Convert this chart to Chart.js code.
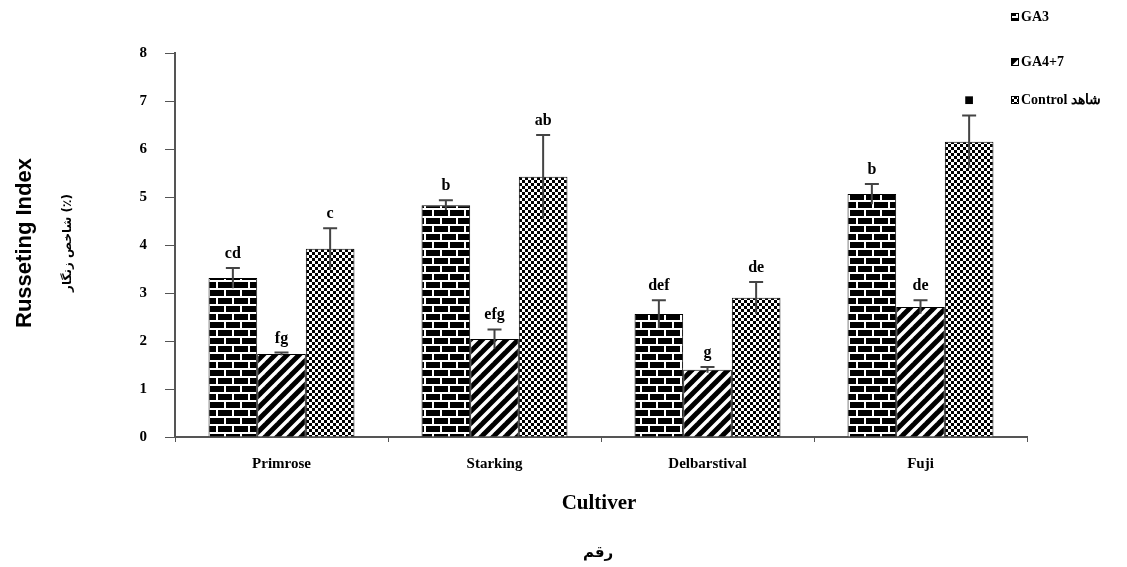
<!DOCTYPE html>
<html>
<head>
<meta charset="utf-8">
<script src="https://cdn.jsdelivr.net/npm/chart.js@4/dist/chart.umd.min.js"></script>
<style>
html,body{margin:0;padding:0;background:#fff}
#wrap{width:1127px;height:567px;position:relative}
</style>
</head>
<body>
<div id="wrap"><canvas id="myChart"></canvas></div>
<script>
// data
const cultivars = ['Primrose', 'Starking', 'Delbarstival', 'Fuji'];
const seriesNames = ['GA3', 'GA4+7', 'Control شاهد'];
const ga3 = [3.31, 4.83, 2.56, 5.06];
const ga47 = [1.73, 2.04, 1.40, 2.71];
const control = [3.92, 5.42, 2.90, 6.15];
const ga3Err = [0.21, 0.10, 0.29, 0.21];
const ga47Err = [0.03, 0.20, 0.06, 0.14];
const controlErr = [0.43, 0.87, 0.33, 0.55];
const ga3Letters = ['cd', 'b', 'def', 'b'];
const ga47Letters = ['fg', 'efg', 'g', 'de'];
const controlLetters = ['c', 'ab', 'de', '■'];
const yTicks = [0, 1, 2, 3, 4, 5, 6, 7, 8];

function tile(w, h, draw) {
    const c = document.createElement('canvas');
    c.width = w; c.height = h;
    const g = c.getContext('2d');
    draw(g);
    return document.createElement('canvas').getContext('2d').createPattern(c, 'repeat');
}

// brick
const brick = tile(16, 16, function(g){
    g.fillStyle = '#000'; g.fillRect(0, 0, 16, 16);
    g.fillStyle = '#fff';
    g.fillRect(0, 0, 16, 2);
    g.fillRect(0, 8, 16, 2);
    g.fillRect(0, 0, 2, 8);
    g.fillRect(8, 8, 2, 8);
});
// diagonal stripes
const stripes = tile(12, 12, function(g){
    g.fillStyle = '#000'; g.fillRect(0, 0, 12, 12);
    g.strokeStyle = '#fff'; g.lineWidth = 3.5;
    for (let k = -1; k <= 1; k++) {
        g.beginPath();
        g.moveTo(k * 12 - 1, 13);
        g.lineTo(k * 12 + 13, -1);
        g.stroke();
    }
});
// checkerboard
const checker = tile(6, 6, function(g){
    g.fillStyle = '#fff'; g.fillRect(0, 0, 6, 6);
    g.fillStyle = '#000';
    g.fillRect(0, 0, 3, 3);
    g.fillRect(3, 3, 3, 3);
});

const patterns = [brick, stripes, checker];
const errs = [ga3Err, ga47Err, controlErr];
const letters = [ga3Letters, ga47Letters, controlLetters];

const serif = '"Liberation Serif", "Times New Roman", serif';

const extras = {
    id: 'extras',
    afterDatasetsDraw(chart) {
        const ctx = chart.ctx;
        const y = chart.scales.y;
        ctx.save();
        chart.data.datasets.forEach(function(ds, i){
            const meta = chart.getDatasetMeta(i);
            meta.data.forEach(function(el, j){
                const v = ds.data[j], e = errs[i][j];
                const top = y.getPixelForValue(v + e);
                const bot = y.getPixelForValue(v - e);
                ctx.strokeStyle = '#444';
                ctx.lineWidth = 2;
                ctx.beginPath();
                ctx.moveTo(el.x, bot);
                ctx.lineTo(el.x, top);
                ctx.moveTo(el.x - 7, top);
                ctx.lineTo(el.x + 7, top);
                ctx.stroke();
                ctx.fillStyle = '#000';
                ctx.font = 'bold 16px ' + serif;
                ctx.textAlign = 'center';
                ctx.textBaseline = 'alphabetic';
                ctx.fillText(letters[i][j], el.x, top - 10);
            });
        });
        ctx.restore();
    },
    afterDraw(chart) {
        const ctx = chart.ctx;
        ctx.save();
        ctx.fillStyle = '#000';
        // y titles
        ctx.save();
        ctx.translate(25, 243);
        ctx.rotate(-Math.PI / 2);
        ctx.textAlign = 'center';
        ctx.textBaseline = 'middle';
        ctx.font = 'bold 22px "Liberation Sans", Arial, sans-serif';
        ctx.fillText('Russeting Index', 0, 0);
        ctx.translate(0, 43);
        ctx.font = 'bold 12px "DejaVu Sans", sans-serif';
        ctx.fillText('شاخص زنگار (٪)', 0, 0);
        ctx.restore();
        // x titles
        ctx.textAlign = 'center';
        ctx.textBaseline = 'middle';
        ctx.font = 'bold 21px ' + serif;
        ctx.fillText('Cultiver', 599, 504);
        ctx.font = 'bold 15px "DejaVu Sans", sans-serif';
        ctx.fillText('رقم', 598, 553);
        // legend
        const ly = [17, 62, 100];
        ctx.textAlign = 'left';
        ctx.font = 'bold 14px ' + serif;
        seriesNames.forEach(function(n, i){
            ctx.fillStyle = patterns[i];
            ctx.fillRect(1011, ly[i] - 4, 8, 8);
            ctx.strokeStyle = '#000';
            ctx.lineWidth = 1;
            ctx.strokeRect(1011.5, ly[i] - 3.5, 7, 7);
            ctx.fillStyle = '#000';
            ctx.fillText(n, 1021, ly[i]);
        });
        ctx.restore();
    }
};

const ctx = document.getElementById('myChart');
new Chart(ctx, {
    type: 'bar',
    data: {
        labels: cultivars,
        datasets: [
            { label: seriesNames[0], data: ga3, backgroundColor: brick },
            { label: seriesNames[1], data: ga47, backgroundColor: stripes },
            { label: seriesNames[2], data: control, backgroundColor: checker }
        ].map(function(d){
            return Object.assign(d, {
                borderColor: '#000', borderWidth: 1,
                barPercentage: 1, categoryPercentage: 0.685
            });
        })
    },
    options: {
        responsive: true,
        maintainAspectRatio: false,
        animation: false,
        layout: { padding: { top: 53, right: 100, left: 0, bottom: 0 } },
        plugins: { legend: { display: false }, tooltip: { enabled: false } },
        scales: {
            x: {
                grid: { display: true, drawOnChartArea: false, tickLength: 5, color: '#555', offset: true },
                border: { color: '#555', width: 2 },
                ticks: { color: '#000', font: { family: serif, size: 15, weight: 'bold' }, padding: 13 },
                afterFit(s) { s.height = 130; }
            },
            y: {
                min: 0, max: 8,
                afterBuildTicks(s) { s.ticks = yTicks.map(function(v){ return { value: v }; }); },
                grid: { display: true, drawOnChartArea: false, tickLength: 10, color: '#555' },
                border: { color: '#555', width: 2 },
                ticks: { color: '#000', font: { family: serif, size: 15, weight: 'bold' }, padding: 18 },
                afterFit(s) { s.width = 175; }
            }
        }
    },
    plugins: [extras]
});
</script>
</body>
</html>
